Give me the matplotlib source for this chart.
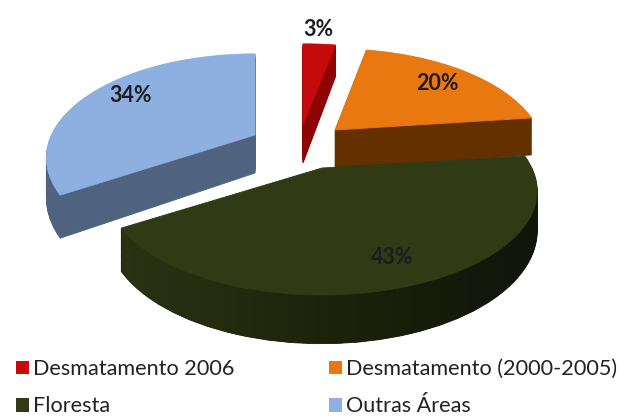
import numpy as np
import matplotlib
matplotlib.use("Agg")
import matplotlib.pyplot as plt
from matplotlib.colors import LinearSegmentedColormap
from matplotlib.patches import Patch
from matplotlib.transforms import Transform

plt.rcParams["font.family"] = ["Lato", "DejaVu Sans"]

labels = ["Desmatamento 2006", "Desmatamento (2000-2005)", "Floresta", "Outras Áreas"]
values = [3, 20, 43, 34]
top_colors = ["#C40A0A", "#E8780F", "#303A15", "#8DB0E0"]
side_colors = ["#8E0303", "#653000", "#1D230B", "#4F6381"]

# where each exploded slice has its tip, in pixels of the picture
tips = [(303, 125), (335, 130), (322, 168), (255, 135)]
widths = [1.0, 0.96, 0.99, 0.96]
pct_pos = [(318, 30), (437, 84), (392, 257), (131, 95)]
draw_rank = [1, 2, 3, 0]  # forest goes in front of the others

RX = 212
RY = 99
TILT = 0.22
DEPTH = 38


class Tilted(Transform):
    # lays the unit pie down on a plane seen in perspective
    input_dims = 2
    output_dims = 2

    def __init__(self, tip, width=1.0, drop=0):
        super().__init__()
        self.tip = tip
        self.width = width
        self.drop = drop

    def transform_non_affine(self, xy):
        xy = np.asarray(xy, dtype=float)
        w = 1 + TILT * xy[:, 1]
        sx = self.tip[0] + self.width * RX * xy[:, 0] / w
        sy = self.tip[1] - RY * xy[:, 1] / w + self.drop / w
        return np.column_stack([sx, sy])


fig = plt.figure(figsize=(6.25, 4.19), dpi=100)
ax = fig.add_axes([0, 0, 1, 1])


def draw_layer(colors, drop, z):
    wedges, _ = ax.pie(values, colors=colors, startangle=90, counterclock=False)
    for i, w in enumerate(wedges):
        w.set_transform(Tilted(tips[i], widths[i], drop) + ax.transData)
        w.set_zorder(draw_rank[i] * 100 + z)
        w.set_edgecolor(colors[i])
        w.set_linewidth(0.6)
    return wedges


# forest wall gets darker towards the right
wall_cmap = LinearSegmentedColormap.from_list("wall", ["#2B3314", "#1D230B", "#10140A"])
ramp = np.linspace(0, 1, 256).reshape(1, -1)

for d in range(DEPTH, 0, -1):
    layer = draw_layer(side_colors, d, 1)
    shade = ax.imshow(ramp, cmap=wall_cmap, aspect="auto", extent=(118, 540, 350, 150),
                      zorder=draw_rank[2] * 100 + 2)
    shade.set_clip_path(layer[2])
draw_layer(top_colors, 0, 50)

ax.set_aspect("auto")
ax.set_xlim(0, 625)
ax.set_ylim(419, 0)
ax.axis("off")

for v, (x, y) in zip(values, pct_pos):
    ax.text(x, y, f"{v}%", ha="center", va="center", fontsize=15.5,
            fontweight="bold", color="#1c1c22", zorder=1000)

# legend fills by column, so left column first
order = [0, 2, 1, 3]
handles = [Patch(facecolor=top_colors[i], label=labels[i]) for i in order]
fig.legend(handles=handles, ncols=2, loc="lower left", bbox_to_anchor=(0.001, -0.03),
           frameon=False, fontsize=15.6, labelcolor="#222222", handlelength=0.6,
           handleheight=0.6, handletextpad=0.18, columnspacing=4.4, labelspacing=0.8,
           borderpad=0.2)

fig.savefig("out.png", dpi=100)
